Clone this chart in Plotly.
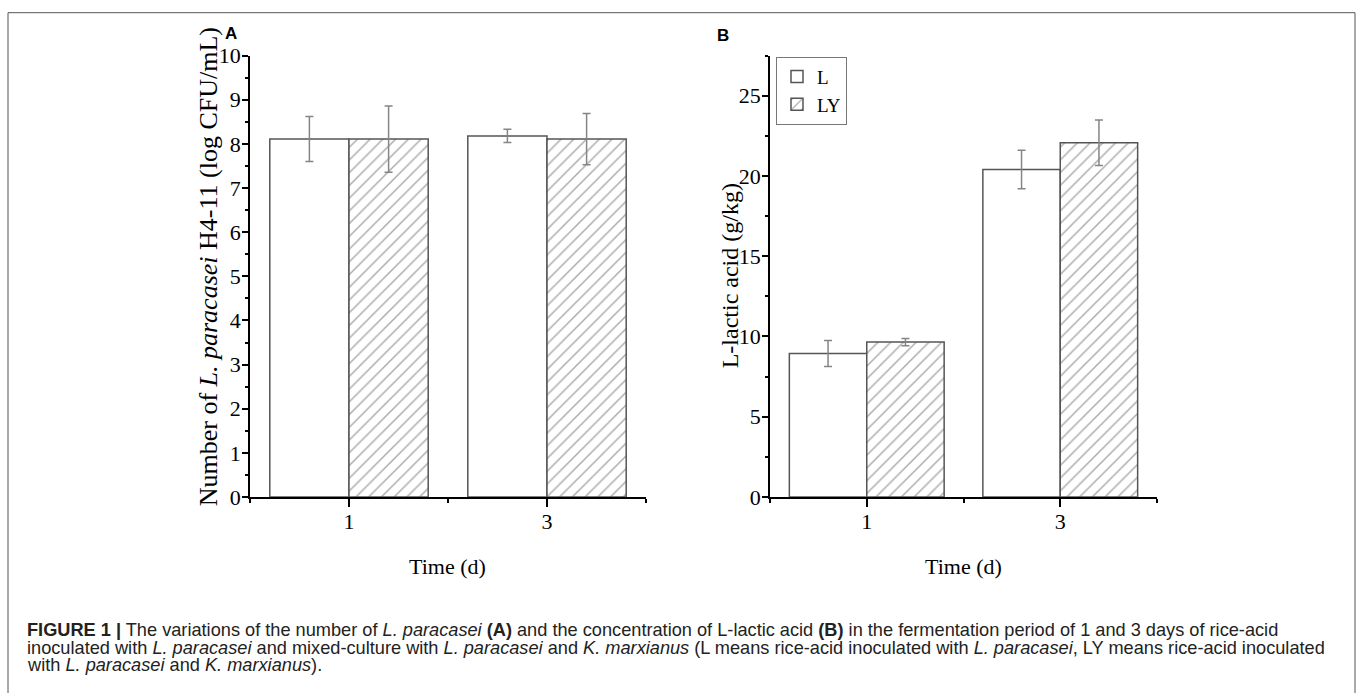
import plotly.graph_objects as go

# ---- data ----
days = [1, 3]
day_labels = ["1", "3"]
series_names = ["L", "LY"]

# Panel A: number of L. paracasei H4-11 (log CFU/mL)
a_L = [8.11, 8.18]
a_L_err = [0.51, 0.15]
a_LY = [8.11, 8.11]
a_LY_err = [0.75, 0.58]

# Panel B: L-lactic acid (g/kg)
b_L = [8.94, 20.40]
b_L_err = [0.81, 1.20]
b_LY = [9.65, 22.07]
b_LY_err = [0.23, 1.42]

W, H = 1360, 693
# measured placement of the drawing area inside the captured page
TOP, PH = 11.3, 669.0

def px(x):
    return x / W
def py(y):
    return 1 - (y - TOP) / PH

SERIF = "Liberation Serif, Times New Roman, serif"
SANS = "Liberation Sans, Arial, sans-serif"
EDGE = "#555555"
ERRC = "#858585"

def bar(name, x, y, err, xa, ya, hatch, show):
    return go.Bar(
        name=name, x=x, y=y, xaxis=xa, yaxis=ya,
        legendgroup=name, showlegend=show,
        marker=dict(
            color="white",
            line=dict(color=EDGE, width=1.5),
            pattern=dict(shape="/" if hatch else "", fgcolor="#555555",
                         bgcolor="white", size=9, solidity=0.16),
        ),
        error_y=dict(type="data", array=err, visible=True, color=ERRC,
                     thickness=1.5, width=4),
    )

fig = go.Figure()
fig.add_trace(bar(series_names[0], days, a_L, a_L_err, "x", "y", False, False))
fig.add_trace(bar(series_names[1], days, a_LY, a_LY_err, "x", "y", True, False))
fig.add_trace(bar(series_names[0], days, b_L, b_L_err, "x2", "y2", False, True))
fig.add_trace(bar(series_names[1], days, b_LY, b_LY_err, "x2", "y2", True, True))

ydom = [py(497), py(55)]

xaxis_common = dict(
    range=[0, 4], tickmode="array", tickvals=days, ticktext=day_labels,
    ticks="outside", ticklen=8, tickwidth=1.5, tickcolor="black",
    showline=True, linecolor="black", linewidth=1.5,
    showgrid=False, zeroline=False,
    minor=dict(tick0=0, dtick=2, ticks="outside", ticklen=4, tickwidth=1.5,
               tickcolor="black", showgrid=False),
    tickfont=dict(family=SERIF, size=22, color="black"),
    ticklabelstandoff=-4,
    fixedrange=True,
)
yaxis_common = dict(
    ticks="outside", ticklen=6, tickwidth=1.5, tickcolor="black",
    showline=True, linecolor="black", linewidth=1.5,
    showgrid=False, zeroline=False,
    tickfont=dict(family=SERIF, size=22, color="black"),
    ticklabelstandoff=-3,
    fixedrange=True,
)

fig.update_layout(
    width=W, height=H,
    margin=dict(l=0, r=0, t=0, b=0, pad=0),
    paper_bgcolor="white", plot_bgcolor="white",
    barmode="group", bargap=0.2, bargroupgap=0,
    xaxis=dict(domain=[px(250), px(646)], anchor="y", **xaxis_common),
    yaxis=dict(domain=ydom, anchor="x", range=[0, 10], dtick=1, tick0=0,
               minor=dict(dtick=0.5, ticks="outside", ticklen=3, tickwidth=1.5,
                          tickcolor="black", showgrid=False),
               **yaxis_common),
    xaxis2=dict(domain=[px(770), px(1157)], anchor="y2", **xaxis_common),
    yaxis2=dict(domain=ydom, anchor="x2", range=[0, 27.5], dtick=5, tick0=0,
                minor=dict(dtick=2.5, ticks="outside", ticklen=3, tickwidth=1.5,
                           tickcolor="black", showgrid=False),
                **yaxis_common),
    legend=dict(
        x=px(776), y=py(56), xanchor="left", yanchor="top",
        bordercolor="#777777", borderwidth=1, bgcolor="white",
        font=dict(family=SERIF, size=19, color="black"),
        tracegroupgap=0, itemwidth=30,
    ),
    showlegend=True,
)

def ann(x, y, text, size, family, **kw):
    d = dict(x=px(x), y=py(y), xref="paper", yref="paper", text=text,
             showarrow=False, xanchor="center", yanchor="middle",
             font=dict(family=family, size=size,
                       color=kw.pop("color", "black")))
    d.update(kw)
    return d

annotations = [
    ann(231, 33, "<b>A</b>", 17, SANS),
    ann(723, 35, "<b>B</b>", 17, SANS),
    ann(208, 267, "Number of <i>L. paracasei</i> H4-11 (log CFU/mL)", 26, SERIF,
        textangle=-90),
    ann(730, 276, "L-lactic acid (g/kg)", 24, SERIF, textangle=-90),
    ann(447, 567, "Time (d)", 22, SERIF),
    ann(963, 567, "Time (d)", 22, SERIF),
]

caption_lines = [
    "<b>FIGURE 1 |</b> The variations of the number of <i>L. paracasei</i> <b>(A)</b> and the concentration of L-lactic acid <b>(B)</b> in the fermentation period of 1 and 3 days of rice-acid",
    "inoculated with <i>L. paracasei</i> and mixed-culture with <i>L. paracasei</i> and <i>K. marxianus</i> (L means rice-acid inoculated with <i>L. paracasei</i>, LY means rice-acid inoculated",
    "with <i>L. paracasei</i> and <i>K. marxianus</i>).",
]
for i, line in enumerate(caption_lines):
    annotations.append(ann(25, 630.5 + 17.5 * i, line, 18.2, SANS, color="#222222",
                           xanchor="left", yanchor="middle", align="left"))

fig.update_layout(annotations=annotations)

fig.add_shape(type="rect", xref="paper", yref="paper",
              x0=px(8), x1=px(1355), y0=py(720), y1=py(12),
              line=dict(color="#555555", width=1), fillcolor="rgba(0,0,0,0)",
              layer="below")

fig.write_html(
    "out.html",
    include_plotlyjs=True,
    config={"displayModeBar": False},
    post_script=(
        "document.documentElement.style.margin='0';"
        "document.documentElement.style.padding='0';"
        "document.body.style.margin='0';"
        "document.body.style.padding='0';"
        "document.body.style.overflow='hidden';"
    ),
)
